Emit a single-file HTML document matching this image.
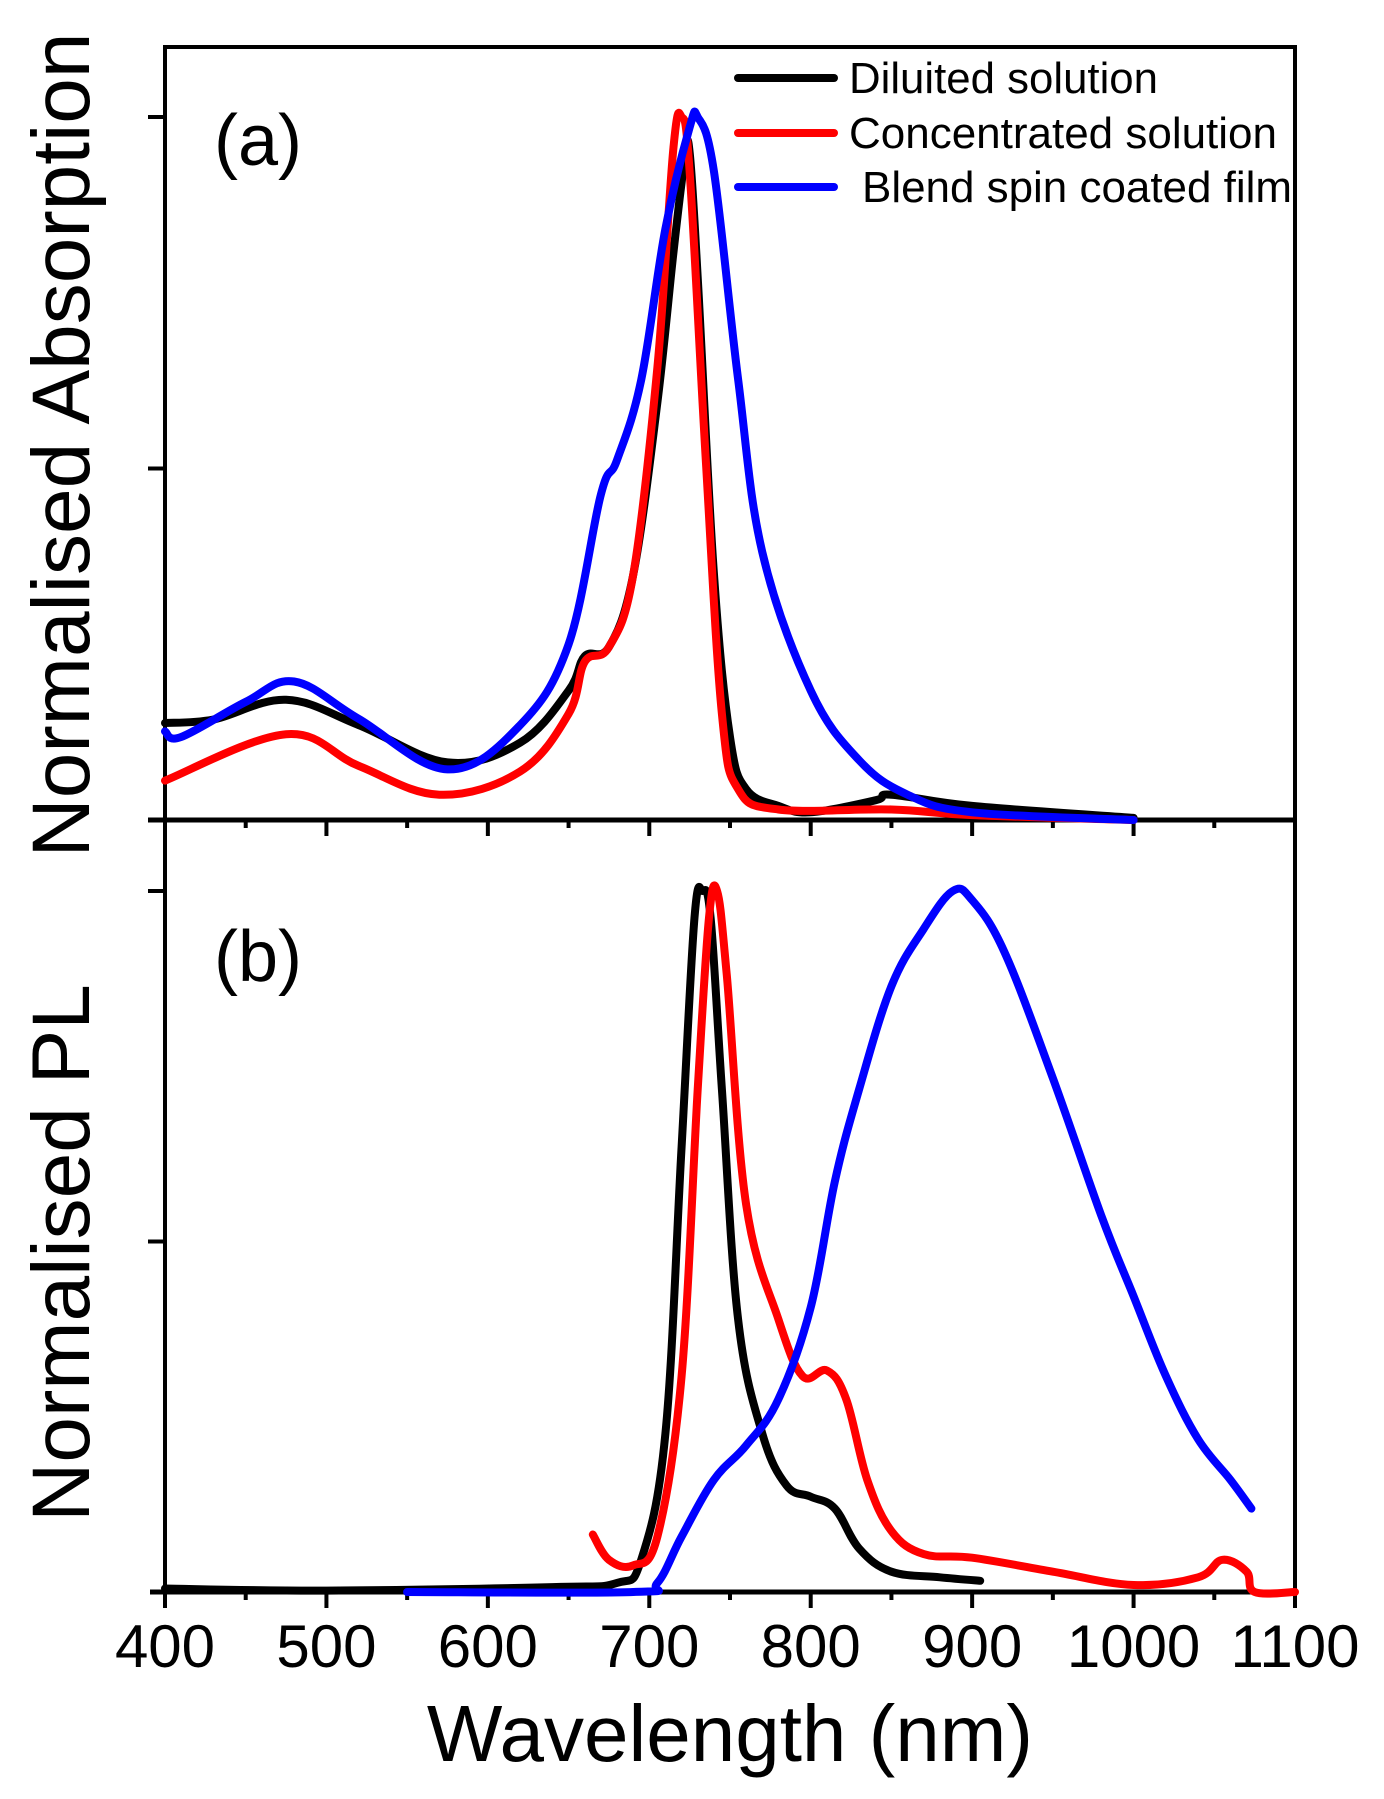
<!DOCTYPE html>
<html><head><meta charset="utf-8"><style>
html,body{margin:0;padding:0;background:#fff}
svg{display:block}
text{font-family:"Liberation Sans",Arial,sans-serif;fill:#000}
</style></head><body>
<svg id="chart" width="1384" height="1799" viewBox="0 0 1384 1799" xmlns="http://www.w3.org/2000/svg">
<g id="axes"></g>
<g id="series"></g>
<text transform="translate(89,445) rotate(-90)" text-anchor="middle" font-size="82">Normalised Absorption</text>
<text transform="translate(89,1253) rotate(-90)" text-anchor="middle" font-size="82">Normalised PL</text>
<text x="730" y="1761" text-anchor="middle" font-size="80">Wavelength (nm)</text>
<text x="214" y="165" font-size="72">(a)</text>
<text x="214" y="981" font-size="72">(b)</text>
<g>
<line x1="738" y1="78" x2="834" y2="78" stroke="#000" stroke-width="8" stroke-linecap="round"/>
<text x="849" y="93" font-size="44" textLength="309" lengthAdjust="spacingAndGlyphs">Diluited solution</text>
<line x1="738" y1="133" x2="834" y2="133" stroke="#f00" stroke-width="8" stroke-linecap="round"/>
<text x="849" y="148" font-size="44" textLength="428" lengthAdjust="spacingAndGlyphs">Concentrated solution</text>
<line x1="738" y1="187" x2="834" y2="187" stroke="#00f" stroke-width="8" stroke-linecap="round"/>
<text x="862" y="202" font-size="44" textLength="430" lengthAdjust="spacingAndGlyphs">Blend spin coated film</text>
</g>
</svg>
<script>
// ---- data ----
const xTicks = [400,500,600,700,800,900,1000,1100];
const xTickLabels = ["400","500","600","700","800","900","1000","1100"];
const absDilX = [400,430,475,520,575,620,650,660,675,690,705,715,722,725,730,740,750,760,780,800,840,850,900,1000];
const absDilY = [.138,.143,.171,.135,.082,.110,.184,.233,.246,.348,.594,.808,.94,.95,.772,.351,.118,.044,.020,.011,.028,.036,.02,.003];
const absConX = [400,475,520,570,620,650,660,675,690,705,715,720,725,735,745,755,780,850,900,1000];
const absConY = [.056,.122,.077,.036,.069,.151,.225,.246,.348,.644,.957,1,.923,.512,.151,.044,.015,.015,.007,0];
const absFilmX = [400,410,450,480,520,575,620,650,670,680,695,710,725,730,740,755,770,800,830,860,900,1000];
const absFilmY = [.126,.118,.168,.197,.144,.072,.135,.250,.463,.512,.626,.841,.985,1,.923,.627,.381,.184,.085,.036,.011,0];
const plDilX = [400,500,640,680,695,710,720,728,733,738,745,755,770,785,800,815,830,850,880,905];
const plDilY = [.005,.002,.007,.013,.046,.226,.635,.962,1,.962,.717,.389,.226,.152,.136,.119,.062,.029,.021,.016];
const plConX = [665,675,690,705,720,730,737,742,748,760,780,795,810,822,835,850,870,900,950,1000,1040,1055,1070,1075,1100];
const plConY = [.082,.046,.038,.079,.308,.717,.962,1,.880,.553,.389,.308,.316,.275,.160,.087,.054,.049,.029,.010,.021,.046,.029,0,0];
const plFilmX = [550,690,705,720,740,760,780,800,815,830,850,870,888,900,920,950,980,1000,1020,1040,1060,1073];
const plFilmY = [0,0,.013,.079,.160,.209,.275,.406,.586,.717,.864,.946,1,.987,.913,.733,.537,.422,.308,.218,.160,.119];

// ---- axis functions ----
const L=165,R=1295,TOP=47,MID=820,BOT=1592;
const xs = nm => L + (nm-400)/700*(R-L);
const ya = v => MID - v*703;
const yb = v => BOT - v*701;
const NS="http://www.w3.org/2000/svg";
const axes=document.getElementById('axes'), series=document.getElementById('series');
function mk(tag,attrs,parent){const e=document.createElementNS(NS,tag);for(const k in attrs)e.setAttribute(k,attrs[k]);parent.appendChild(e);return e;}

function curve(xa,va,yf,color,name){
  const P=xa.map((x,i)=>[xs(x),yf(va[i])]);
  let d='M'+P[0][0].toFixed(1)+','+P[0][1].toFixed(1);
  const t=0.18;
  for(let i=0;i<P.length-1;i++){
    const p0=P[Math.max(0,i-1)],p1=P[i],p2=P[i+1],p3=P[Math.min(P.length-1,i+2)];
    const c1=[p1[0]+(p2[0]-p0[0])*t,p1[1]+(p2[1]-p0[1])*t];
    const c2=[p2[0]-(p3[0]-p1[0])*t,p2[1]-(p3[1]-p1[1])*t];
    d+='C'+c1[0].toFixed(1)+','+c1[1].toFixed(1)+' '+c2[0].toFixed(1)+','+c2[1].toFixed(1)+' '+p2[0].toFixed(1)+','+p2[1].toFixed(1);
  }
  const p=mk('path',{d:d,fill:'none',stroke:color,'stroke-width':8,'stroke-linejoin':'round','stroke-linecap':'round'},series);
  
  
}
curve(absDilX,absDilY,ya,'#000','abs-diluted-line');
curve(absConX,absConY,ya,'#f00','abs-concentrated-line');
curve(absFilmX,absFilmY,ya,'#00f','abs-film-line');
curve(plDilX,plDilY,yb,'#000','pl-diluted-line');
curve(plConX,plConY,yb,'#f00','pl-concentrated-line');
curve(plFilmX,plFilmY,yb,'#00f','pl-film-line');

const fr=mk('rect',{x:L,y:TOP,width:R-L,height:BOT-TOP,fill:'none',stroke:'#000','stroke-width':4},axes);


const mid=mk('line',{x1:148,y1:MID,x2:R,y2:MID,stroke:'#000','stroke-width':5},axes);


const bl=mk('line',{x1:150,y1:BOT,x2:R,y2:BOT,stroke:'#000','stroke-width':5},axes);


[0.5,1].forEach(v=>{
  const t=mk('line',{x1:148,y1:ya(v),x2:L,y2:ya(v),stroke:'#000','stroke-width':4},axes);
  
  
  const u=mk('line',{x1:148,y1:yb(v),x2:L,y2:yb(v),stroke:'#000','stroke-width':4},axes);
  
  
});
for(let nm=400;nm<=1100;nm+=50){
  const major = nm%100===0;
  [MID,BOT].forEach(y0=>{
    const t=mk('line',{x1:xs(nm),y1:y0,x2:xs(nm),y2:y0+(major?16:8),stroke:'#000','stroke-width':4},axes);
    
    
  });
}
xTicks.forEach((nm,i)=>{
  const t=mk('text',{x:xs(nm),y:1667,'text-anchor':'middle','font-size':60},axes);
  t.textContent=xTickLabels[i];
  
  
});
</script>
</body></html>
